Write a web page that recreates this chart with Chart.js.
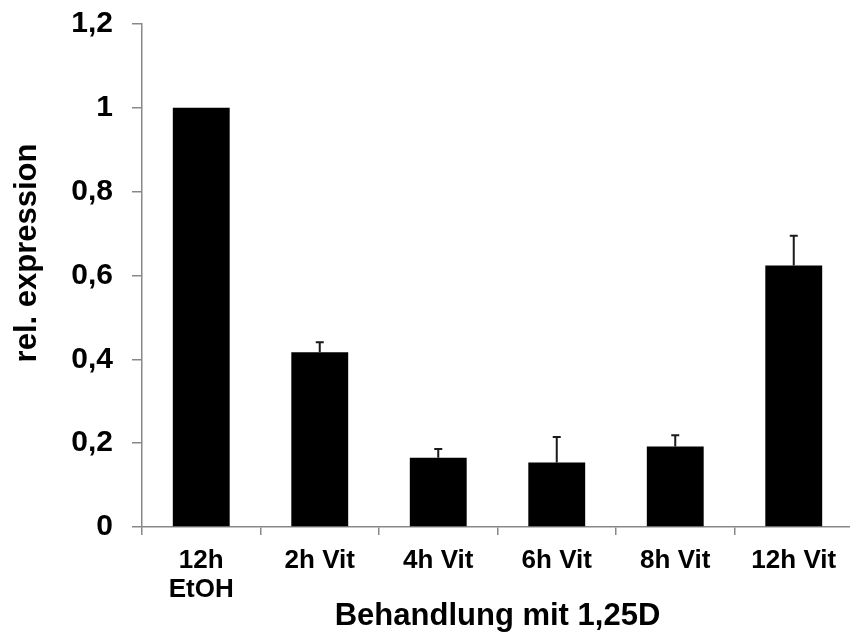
<!DOCTYPE html>
<html>
<head>
<meta charset="utf-8">
<script src="https://cdn.jsdelivr.net/npm/chart.js@4"></script>
<style>
  html, body { margin: 0; padding: 0; background: #fff; overflow: hidden; }
  #wrap { width: 856px; height: 637px; }
</style>
</head>
<body>
<div id="wrap"><canvas id="barChart" width="856" height="637"></canvas></div>
<script>
const kategorien = [['12h', 'EtOH'], '2h Vit', '4h Vit', '6h Vit', '8h Vit', '12h Vit'];
const werte = [1.0, 0.417, 0.165, 0.154, 0.192, 0.624];
const fehler = [0, 0.024, 0.021, 0.061, 0.027, 0.071];
const yTicks = [0, 0.2, 0.4, 0.6, 0.8, 1.0, 1.2];

const yTitel = 'rel. expression';
const xTitel = 'Behandlung mit 1,25D';

const schrift = "'Liberation Sans', Arial, sans-serif";

// upper error bars only
const errorBars = {
  id: 'errorBars',
  afterDatasetsDraw(chart) {
    const ctx = chart.ctx;
    const x = chart.scales.x;
    const y = chart.scales.y;
    ctx.save();
    ctx.strokeStyle = '#1a1a1a';
    ctx.lineWidth = 2;
    fehler.forEach((e, i) => {
      if (!e) return;
      const px = x.getPixelForValue(i);
      const base = y.getPixelForValue(werte[i]);
      const top = y.getPixelForValue(werte[i] + e);
      ctx.beginPath();
      ctx.moveTo(px, base);
      ctx.lineTo(px, top);
      ctx.moveTo(px - 4, top);
      ctx.lineTo(px + 4, top);
      ctx.stroke();
    });
    ctx.restore();
  }
};

// y title sits a bit above the axis centre in the original
const yTitelPlugin = {
  id: 'yTitel',
  afterDraw(chart) {
    const ctx = chart.ctx;
    ctx.save();
    ctx.translate(27, 253);
    ctx.rotate(-Math.PI / 2);
    ctx.font = 'bold 31px ' + schrift;
    ctx.fillStyle = '#000';
    ctx.textAlign = 'center';
    ctx.textBaseline = 'middle';
    ctx.fillText(yTitel, 0, 0);
    ctx.restore();
  }
};

let ctxBarChart = document.getElementById('barChart').getContext('2d');

let BarChart = new Chart(ctxBarChart, {
  type: 'bar',
  data: {
    labels: kategorien,
    datasets: [{
      data: werte,
      backgroundColor: '#000',
      borderWidth: 0,
      categoryPercentage: 1,
      barPercentage: 0.48
    }]
  },
  plugins: [errorBars, yTitelPlugin],
  options: {
    responsive: false,
    animation: false,
    layout: { padding: { top: 24, right: 3, bottom: 0, left: 0 } },
    plugins: {
      legend: { display: false },
      tooltip: { enabled: false }
    },
    scales: {
      x: {
        offset: true,
        border: { color: '#888', width: 1.5 },
        grid: { offset: true, drawOnChartArea: false, drawTicks: true, tickLength: 8, tickColor: '#888', lineWidth: 1.5 },
        ticks: {
          color: '#000',
          padding: 12,
          maxRotation: 0,
          font: { family: schrift, size: 26, weight: 'bold', lineHeight: 1.1 }
        },
        title: {
          display: true,
          text: xTitel,
          color: '#000',
          padding: { top: 0, bottom: 2 },
          font: { family: schrift, size: 31, weight: 'bold' }
        },
        afterFit: (scale) => { scale.height = 110; scale.paddingLeft = 0; scale.paddingRight = 0; }
      },
      y: {
        min: 0,
        max: 1.2,
        border: { color: '#888', width: 1.5 },
        grid: { drawOnChartArea: false, drawTicks: true, tickLength: 10, tickColor: '#888', lineWidth: 1.5 },
        afterBuildTicks: (scale) => { scale.ticks = yTicks.map(v => ({ value: v })); },
        ticks: {
          color: '#000',
          padding: 19,
          font: { family: schrift, size: 30, weight: 'bold' },
          callback: (value) => String(Math.round(value * 10) / 10).replace('.', ',')
        },
        afterFit: (scale) => { scale.width = 142; scale.paddingTop = 0; scale.paddingBottom = 0; }
      }
    }
  }
});
</script>
</body>
</html>
